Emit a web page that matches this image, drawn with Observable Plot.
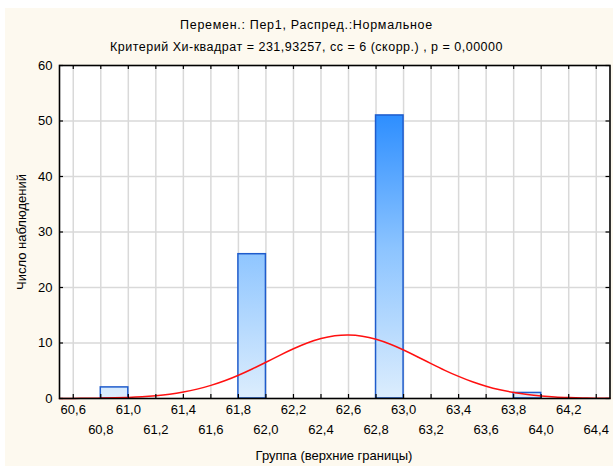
<!DOCTYPE html>
<html>
<head>
<meta charset="utf-8">
<script src="https://cdn.jsdelivr.net/npm/d3@7"></script>
<script src="https://cdn.jsdelivr.net/npm/@observablehq/plot@0.6"></script>
<style>
  body { margin: 0; background: #ffffff; }
  #wrap { position: relative; width: 613px; height: 466px; overflow: hidden; font-family: "Liberation Sans", Arial, sans-serif; color: #000; }
  #panel { position: absolute; left: 5px; top: 8px; right: 0; bottom: 0; background: #fdf9ef; }
  .t { position: absolute; font-size: 12.5px; line-height: 14px; white-space: nowrap; text-align: center; }
  #chart { position: absolute; left: 0; top: 0; }
</style>
</head>
<body>
<div id="wrap">
  <div id="panel"></div>
  <div id="chart"></div>
  <div class="t" style="left:0;width:613px;top:18px;letter-spacing:0.7px;">Перемен.: Пер1, Распред.:Нормальное</div>
  <div class="t" style="left:0;width:613px;top:40px;letter-spacing:0.5px;">Критерий Хи-квадрат = 231,93257, сс = 6 (скорр.) , р = 0,00000</div>
  <div class="t" style="left:59px;width:550px;top:449px;font-size:13px;">Группа (верхние границы)</div>
  <div class="t" style="left:-78px;width:200px;top:225px;font-size:13px;transform:rotate(-90deg);">Число наблюдений</div>
</div>
<script>
// Histogram bins (lower and upper bounds) and observed counts
const binLow  = [60.8, 61.8, 62.8, 63.8];
const binHigh = [61.0, 62.0, 63.0, 64.0];
const counts  = [2, 26, 51, 1];

// Expected-normal curve, values
const curveX = [60.5, 60.6, 60.7, 60.8, 60.9, 61.0, 61.1, 61.2, 61.3, 61.4, 61.5, 61.6, 61.7, 61.8, 61.9, 62.0, 62.1, 62.2, 62.3, 62.4, 62.5, 62.6, 62.7, 62.8, 62.9, 63.0, 63.1, 63.2, 63.3, 63.4, 63.5, 63.6, 63.7, 63.8, 63.9, 64.0, 64.1, 64.2, 64.3, 64.4, 64.5];
const curveY = [0.01, 0.02, 0.04, 0.07, 0.12, 0.2, 0.32, 0.51, 0.78, 1.17, 1.69, 2.36, 3.19, 4.19, 5.32, 6.53, 7.78, 8.96, 10.0, 10.8, 11.3, 11.45, 11.23, 10.66, 9.81, 8.73, 7.53, 6.29, 5.08, 3.98, 3.01, 2.21, 1.57, 1.08, 0.72, 0.47, 0.29, 0.18, 0.1, 0.06, 0.03];

// Tick labels
const xTicksRow1 = [60.6, 61.0, 61.4, 61.8, 62.2, 62.6, 63.0, 63.4, 63.8, 64.2];
const xTicksRow2 = [60.8, 61.2, 61.6, 62.0, 62.4, 62.8, 63.2, 63.6, 64.0, 64.4];
const yTicks = [0, 10, 20, 30, 40, 50, 60];

const bins = binLow.map((lo, i) => ({lo, hi: binHigh[i], n: counts[i]}));
const curve = curveX.map((x, i) => ({x, y: curveY[i]}));
const allXTicks = [...xTicksRow1, ...xTicksRow2].sort((a, b) => a - b);
const fmt = d => d.toFixed(1).replace(".", ",");

const W = 613, H = 466, mL = 59, mR = 3.5, mT = 65, mB = 68;
const fw = W - mL - mR, fh = H - mT - mB;

const chart = Plot.plot({
  width: W, height: H,
  marginLeft: mL, marginRight: mR, marginTop: mT, marginBottom: mB,
  style: {background: "transparent", fontSize: "13px", fontFamily: "'Liberation Sans', Arial, sans-serif", color: "#000"},
  x: {domain: [60.5, 64.5]},
  y: {domain: [0, 60]},
  marks: [
    Plot.frame({fill: "white", stroke: "none"}),
    Plot.gridX(allXTicks, {stroke: "#d9d9d9", strokeOpacity: 1, strokeWidth: 1.5}),
    Plot.gridY(yTicks.filter(d => d > 0 && d < 60), {stroke: "#d9d9d9", strokeOpacity: 1, strokeWidth: 1.5}),
    Plot.rectY(bins, {x1: "lo", x2: "hi", y: "n", fill: "url(#barGrad)", stroke: "#1f5ccc", strokeWidth: 1.5}),
    Plot.line(curve, {x: "x", y: "y", stroke: "#ff1010", strokeWidth: 1.5, curve: "natural"}),
    Plot.tickX(allXTicks, {x: d => d, insetTop: fh - 4, stroke: "#000", strokeWidth: 1.2}),
    Plot.tickX(allXTicks, {x: d => d, insetBottom: fh - 4, stroke: "#000", strokeWidth: 1.2}),
    Plot.tickY(yTicks, {y: d => d, insetRight: fw - 4, stroke: "#000", strokeWidth: 1.2}),
    Plot.tickY(yTicks, {y: d => d, insetLeft: fw - 4, stroke: "#000", strokeWidth: 1.2}),
    Plot.frame({stroke: "#000", strokeWidth: 1.6}),
    Plot.axisX(xTicksRow1, {tickSize: 0, tickPadding: 6, tickFormat: fmt, label: null}),
    Plot.axisX(xTicksRow2, {tickSize: 0, tickPadding: 26, tickFormat: fmt, label: null}),
    Plot.axisY(yTicks, {tickSize: 0, tickPadding: 7, label: null})
  ]
});

const ns = "http://www.w3.org/2000/svg";
const defs = document.createElementNS(ns, "defs");
const grad = document.createElementNS(ns, "linearGradient");
grad.setAttribute("id", "barGrad");
grad.setAttribute("gradientUnits", "userSpaceOnUse");
grad.setAttribute("x1", "0"); grad.setAttribute("x2", "0");
grad.setAttribute("y1", String(H - mB)); grad.setAttribute("y2", String(mT));
[["0", "#dcedfd"], ["0.45", "#8cc4ff"], ["1", "#0a7aff"]].forEach(([o, c]) => {
  const s = document.createElementNS(ns, "stop");
  s.setAttribute("offset", o); s.setAttribute("stop-color", c);
  grad.appendChild(s);
});
defs.appendChild(grad);
chart.insertBefore(defs, chart.firstChild);
document.getElementById("chart").appendChild(chart);
</script>
</body>
</html>
